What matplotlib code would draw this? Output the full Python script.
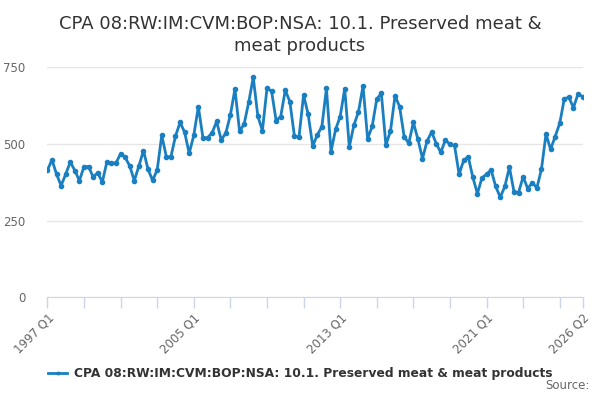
import matplotlib
matplotlib.use("Agg")
import matplotlib.pyplot as plt
import numpy as np

title = "CPA 08:RW:IM:CVM:BOP:NSA: 10.1. Preserved meat &\nmeat products"
series_name = "CPA 08:RW:IM:CVM:BOP:NSA: 10.1. Preserved meat & meat products"

# quarterly values, 1997 Q1 .. 2026 Q2
values = [
    414, 448, 401, 364, 401, 441, 413, 380, 426, 426, 392, 406, 375, 441, 437, 438,
    468, 456, 428, 380, 428, 478, 417, 381, 415, 528, 458, 458, 525, 570, 538, 469,
    528, 621, 520, 520, 536, 573, 513, 535, 594, 679, 542, 564, 635, 717, 591, 543,
    681, 672, 576, 589, 675, 638, 525, 522, 659, 597, 493, 529, 556, 681, 475, 547,
    589, 680, 490, 561, 604, 689, 517, 557, 646, 665, 496, 542, 657, 621, 523, 502,
    570, 515, 452, 509, 539, 501, 472, 513, 498, 495, 401, 446, 458, 391, 338, 389,
    401, 415, 361, 326, 361, 424, 344, 341, 393, 354, 374, 356, 417, 532, 482, 524,
    567, 647, 652, 618, 663, 654,
]
quarters = [f"{1997 + k // 4} Q{k % 4 + 1}" for k in range(len(values))]
label_quarters = ["1997 Q1", "2005 Q1", "2013 Q1", "2021 Q1", "2026 Q2"]
y_ticks = [0, 250, 500, 750]

blue = "#1a7fc1"
axis_col = "#ccd6eb"
text_col = "#666666"

fig = plt.figure(figsize=(6, 4), dpi=100)
ax = fig.add_axes([0.079, 0.257, 0.892, 0.575])

x = np.arange(len(values))
ax.plot(x, values, color=blue, lw=2, marker="o", ms=3.0, label=series_name)

ax.set_xlim(0, len(values) - 1)
ax.set_ylim(0, 750)
ax.set_yticks(y_ticks)
ax.set_yticklabels([str(v) for v in y_ticks], color=text_col, fontsize=8.5)
ax.tick_params(axis="y", length=0, pad=16)
ax.grid(axis="y", color="#e6e6e6", lw=1)
ax.set_axisbelow(True)

major = list(range(0, len(values), 8)) + [len(values) - 1]
ax.set_xticks(major)
ax.set_xticklabels([quarters[k] if quarters[k] in label_quarters else "" for k in major],
                   rotation=45, ha="right", rotation_mode="anchor",
                   color=text_col, fontsize=8.5)
ax.tick_params(axis="x", length=8, color=axis_col, width=1, pad=2)

for s in ["top", "right", "left"]:
    ax.spines[s].set_visible(False)
ax.spines["bottom"].set_color(axis_col)

fig.text(0.5, 0.962, title, ha="center", va="top", fontsize=13, color="#333333",
         linespacing=1.25)

leg = fig.legend(loc="center", bbox_to_anchor=(0.5, 0.065), frameon=False,
                 prop={"weight": "bold", "size": 8.8}, handlelength=1.6,
                 handletextpad=0.5, markerscale=0.6)
for t in leg.get_texts():
    t.set_color("#333333")

fig.text(0.982, 0.02, "Source:", ha="right", va="bottom", fontsize=8.5, color=text_col)

fig.savefig("out.png", dpi=100)
